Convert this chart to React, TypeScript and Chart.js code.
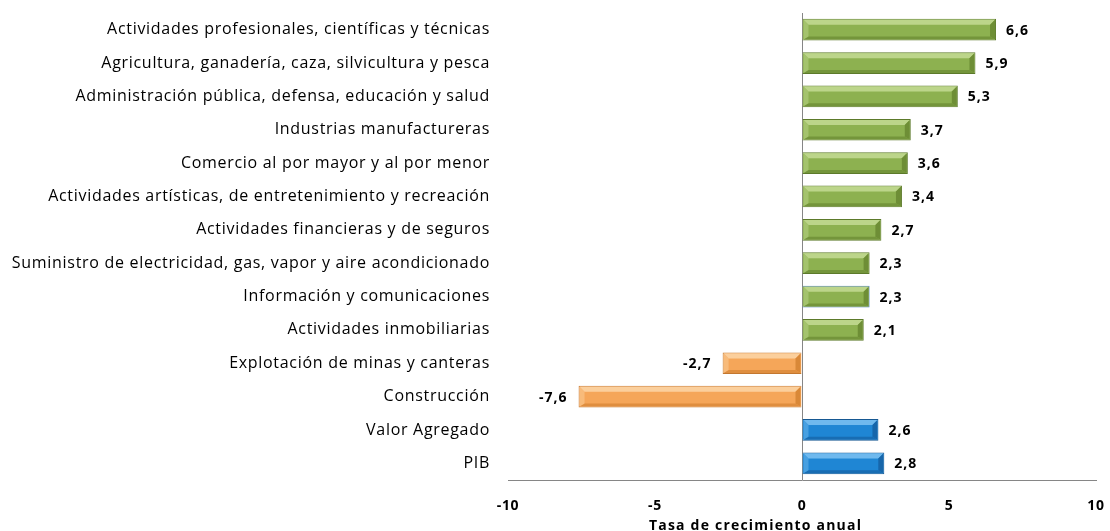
import React, { useEffect, useRef } from "react";
import { Chart, registerables } from "chart.js";

Chart.register(...registerables);

const categories = [
  "Actividades profesionales, científicas y técnicas",
  "Agricultura, ganadería, caza, silvicultura y pesca",
  "Administración pública, defensa, educación y salud",
  "Industrias manufactureras",
  "Comercio al por mayor y al por menor",
  "Actividades artísticas, de entretenimiento y recreación",
  "Actividades financieras y de seguros",
  "Suministro de electricidad, gas, vapor y aire acondicionado",
  "Información y comunicaciones",
  "Actividades inmobiliarias",
  "Explotación de minas y canteras",
  "Construcción",
  "Valor Agregado",
  "PIB",
];
const growth = [6.6, 5.9, 5.3, 3.7, 3.6, 3.4, 2.7, 2.3, 2.3, 2.1, -2.7, -7.6, 2.6, 2.8];
const aggregates = ["Valor Agregado", "PIB"];
const xTicks = [-10, -5, 0, 5, 10];
const axisTitle = "Tasa de crecimiento anual";

type Pal = { face: string; light: string; dark: string; border: string };
const GREEN: Pal = { face: "#8db150", light: "#bcd58a", dark: "#6e8e36", border: "#5c7a2a" };
const ORANGE: Pal = { face: "#f5a659", light: "#fbcf9c", dark: "#d98838", border: "#c3772f" };
const BLUE: Pal = { face: "#1f86d4", light: "#6fb9ee", dark: "#1766aa", border: "#165892" };

function palFor(i: number): Pal {
  if (aggregates.includes(categories[i])) return BLUE;
  if (growth[i] < 0) return ORANGE;
  return GREEN;
}

const FONT = "'Open Sans', sans-serif";

const spacingPlugin = {
  id: "spacing",
  beforeLayout(chart: any) {
    (chart.ctx as any).letterSpacing = "0.7px";
  },
  beforeDraw(chart: any) {
    (chart.ctx as any).letterSpacing = "0.7px";
  },
};

const bevelPlugin = {
  id: "bevel",
  afterDatasetsDraw(chart: any) {
    const ctx = chart.ctx;
    const meta = chart.getDatasetMeta(0);
    meta.data.forEach((el: any, i: number) => {
      const p = palFor(i);
      const x1 = Math.min(el.x, el.base);
      const x2 = Math.max(el.x, el.base);
      const t = el.y - el.height / 2;
      const b = el.y + el.height / 2;
      const bv = 6;
      ctx.save();
      const g = ctx.createLinearGradient(0, t, 0, b);
      g.addColorStop(0, p.light);
      g.addColorStop(0.3, p.face);
      g.addColorStop(1, p.face);
      ctx.fillStyle = g;
      ctx.fillRect(x1 + bv, t + bv, Math.max(0, x2 - x1 - 2 * bv), b - t - 2 * bv + 1);
      ctx.fillStyle = p.light;
      ctx.beginPath();
      ctx.moveTo(x1 + 1, t + 1);
      ctx.lineTo(x2 - 1, t + 1);
      ctx.lineTo(x2 - bv, t + bv);
      ctx.lineTo(x1 + bv, t + bv);
      ctx.closePath();
      ctx.fill();
      ctx.fillStyle = p.dark;
      ctx.globalAlpha = 0.8;
      ctx.beginPath();
      ctx.moveTo(x1 + 1, b - 1);
      ctx.lineTo(x2 - 1, b - 1);
      ctx.lineTo(x2 - bv, b - bv + 2);
      ctx.lineTo(x1 + bv, b - bv + 2);
      ctx.closePath();
      ctx.fill();
      ctx.globalAlpha = 1;
      ctx.fillStyle = p.dark;
      ctx.beginPath();
      ctx.moveTo(x2 - 1, t + 1);
      ctx.lineTo(x2 - 1, b - 1);
      ctx.lineTo(x2 - bv, b - bv + 2);
      ctx.lineTo(x2 - bv, t + bv);
      ctx.closePath();
      ctx.fill();
      ctx.fillStyle = p.light;
      ctx.globalAlpha = 0.5;
      ctx.beginPath();
      ctx.moveTo(x1 + 1, t + 1);
      ctx.lineTo(x1 + 1, b - 1);
      ctx.lineTo(x1 + bv, b - bv + 2);
      ctx.lineTo(x1 + bv, t + bv);
      ctx.closePath();
      ctx.fill();
      ctx.restore();
    });
    ctx.save();
    (ctx as any).letterSpacing = "1px";
    ctx.font = `bold 14px ${FONT}`;
    ctx.fillStyle = "#000";
    ctx.textBaseline = "middle";
    meta.data.forEach((el: any, i: number) => {
      const v = growth[i];
      const txt = v.toFixed(1).replace(".", ",");
      if (v >= 0) {
        ctx.textAlign = "left";
        ctx.fillText(txt, el.x + 10, el.y + 1);
      } else {
        ctx.textAlign = "right";
        ctx.fillText(txt, el.x - 11, el.y + 1);
      }
    });
    (ctx as any).letterSpacing = "1.2px";
    ctx.font = `bold 14px ${FONT}`;
    ctx.textAlign = "left";
    ctx.textBaseline = "alphabetic";
    ctx.fillText(axisTitle, 649, 530);
    ctx.restore();
  },
};

export default function App() {
  const ref = useRef<HTMLCanvasElement>(null);
  useEffect(() => {
    if (!ref.current) return;
    const chart = new Chart(ref.current, {
      type: "bar",
      data: {
        labels: categories,
        datasets: [
          {
            data: growth,
            backgroundColor: growth.map((_, i) => palFor(i).face),
            borderColor: growth.map((_, i) =>
              categories[i] === "Información y comunicaciones" ? "#4a7ebb" : palFor(i).border
            ),
            borderWidth: 1,
            barPercentage: 0.65,
            categoryPercentage: 1,
          },
        ],
      },
      options: {
        indexAxis: "y",
        animation: false,
        responsive: false,
        maintainAspectRatio: false,
        layout: { padding: { top: 13, right: 14, left: 0, bottom: 0 } },
        plugins: { legend: { display: false }, tooltip: { enabled: false } },
        scales: {
          x: {
            min: -10,
            max: 10,
            afterBuildTicks: (s: any) => {
              s.ticks = xTicks.map((v) => ({ value: v }));
            },
            afterFit: (s: any) => {
              s.height = 51;
              s.paddingLeft = 0;
              s.paddingRight = 0;
            },
            grid: {
              drawTicks: false,
              color: (c: any) => (c.tick && c.tick.value === 0 ? "#868686" : "rgba(0,0,0,0)"),
            },
            border: { display: true, color: "#868686" },
            ticks: {
              padding: 18,
              color: "#000",
              font: { family: FONT, size: 14, weight: "bold" },
            },
          },
          y: {
            afterFit: (s: any) => {
              s.width = 508;
              s.paddingTop = 0;
              s.paddingBottom = 0;
            },
            grid: { display: false, drawTicks: false },
            border: { display: false },
            ticks: {
              padding: 18,
              color: "#000",
              font: { family: FONT, size: 16 },
            },
          },
        },
      },
      plugins: [spacingPlugin, bevelPlugin],
    });
    return () => chart.destroy();
  }, []);
  return (
    <div style={{ position: "absolute", left: 0, top: 0, width: 1110, height: 531, background: "#fff" }}>
      <canvas ref={ref} width={1110} height={531} />
    </div>
  );
}
